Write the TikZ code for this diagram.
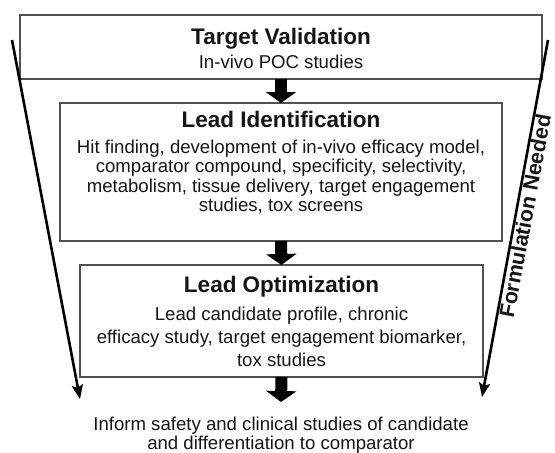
\documentclass[tikz,border=0pt]{standalone}
\usepackage{fontspec}
\setmainfont{Liberation Sans}
\usetikzlibrary{arrows.meta}
\definecolor{frame}{HTML}{505050}
\definecolor{ink}{HTML}{151515}
\begin{document}
\begin{tikzpicture}[x=1pt,y=-1pt,
  stagebox/.style={draw=frame, line width=1.3pt, inner sep=0pt, outer sep=0pt},
  headtext/.style={inner sep=0pt, anchor=base, text=ink, font=\bfseries\fontsize{22.5}{26}\selectfont},
  % multi-line texts are placed by the baseline of their last line
  bodytext/.style={inner sep=0pt, anchor=base, align=center, text=ink, font=\fontsize{18.6}{#1}\selectfont},
  bodytext/.default=19.4,
  flow/.style={line width=12pt, -{Triangle[width=30pt,length=11pt]}},
  sidearrow/.style={line width=2.6pt, -{Stealth[length=14pt,width=11pt,inset=2.5pt]}}]
\useasboundingbox (0,0) rectangle (555,453);

% stage boxes
\node[stagebox, minimum width=522pt, minimum height=64pt]  (tv) at (281,47) {};
\node[stagebox, minimum width=442pt, minimum height=138pt] (li) at (281,172) {};
\node[stagebox, minimum width=403pt, minimum height=112pt] (lo) at (281.5,321) {};

% stage texts
\node[headtext] (tvh) at (281,44) {Target Validation};
\node[bodytext] (tvb) at (281,68.5) {In-vivo POC studies};

\node[headtext] (lih) at (281,127.5) {Lead Identification};
\node[bodytext] (lib) at (281,211.5) {Hit finding, development of in-vivo efficacy model,\\
  comparator compound, specificity, selectivity,\\
  metabolism, tissue delivery, target engagement\\
  studies, tox screens};

\node[headtext] (loh) at (281.5,292) {Lead Optimization};
\node[bodytext=22.8] (lob) at (281.5,366.5) {Lead candidate profile, chronic\\
  efficacy study, target engagement biomarker,\\
  tox studies};

\node[bodytext=19] (out) at (281,449) {Inform safety and clinical studies of candidate\\
  and differentiation to comparator};

% stage-to-stage arrows
\coordinate (outtop) at (281,402);
\draw[flow] (tv.south) -- (li.north);
\draw[flow] (li.south) -- (lo.north);
\draw[flow] (lo.south) -- (outtop);

% funnel sides
\coordinate (ltop) at (12,40);
\coordinate (lend) at (80,399);
\coordinate (rtop) at (548,40);
\coordinate (rend) at (482,397);
\draw[sidearrow] (ltop) -- (lend);
\draw[sidearrow] (rtop) -- (rend);
\node[rotate=79.5, inner sep=0pt, text=ink, font=\bfseries\fontsize{21.3}{26}\selectfont] (fn) at (525,216) {Formulation Needed};
\end{tikzpicture}
\end{document}
